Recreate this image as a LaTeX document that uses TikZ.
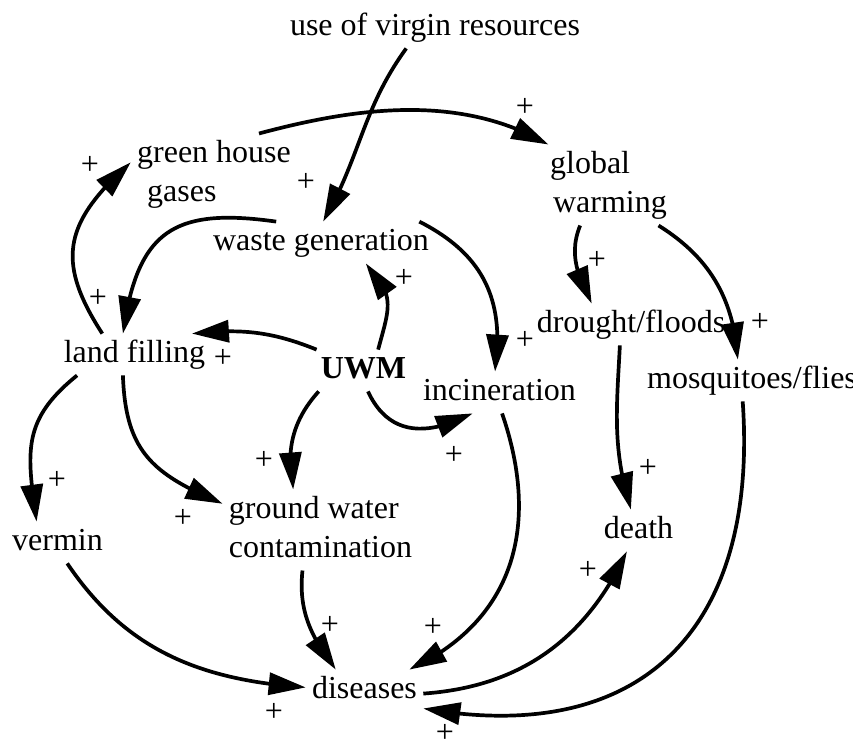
\documentclass[tikz,border=0pt]{standalone}
\usepackage{fontspec}
\setmainfont{Liberation Serif}
\usetikzlibrary{arrows.meta, bending}

\tikzset{
  var/.style={font=\fontsize{16pt}{19.5pt}\selectfont, inner sep=3pt,
    text height=11pt, text depth=3.5pt, anchor=base},
  varml/.style={font=\fontsize{16pt}{19.5pt}\selectfont, inner sep=3pt,
    text depth=3.5pt, align=left},
  pol/.style={font=\fontsize{16pt}{19.5pt}\selectfont, inner sep=0pt},
  link/.style={line width=1.85pt, -{Triangle[length=18.5pt,width=11pt]}}
}

\begin{document}
\begin{tikzpicture}[x=0.5pt, y=0.5pt]
  % page frame (pixel grid, y downwards as negative)
  \useasboundingbox (0,0) rectangle (853,-740);

  % variables
  \node[var] (vr) at (435,-35) {use of virgin resources};
  \node[varml] (gh) at (214,-174) {green house\\\hspace*{5pt}gases};
  \node[varml] (gw) at (608.5,-185) {global\\\hspace*{1.5pt}warming};
  \node[var] (wg) at (321,-250) {waste generation};
  \node[var] (lf) at (134.5,-362) {land filling};
  \node[var, font=\fontsize{16pt}{19.5pt}\selectfont\bfseries] (uwm) at (363.5,-378) {UWM};
  \node[var] (df) at (631,-332) {drought/floods};
  \node[var] (inc) at (499.5,-400) {incineration};
  \node[var] (mf) at (752,-388) {mosquitoes/flies};
  \node[var] (vm) at (57.5,-550) {vermin};
  \node[varml] (gwc) at (320.5,-530) {ground water\\contamination};
  \node[var] (de) at (638.5,-538) {death};
  \node[var] (dis) at (364.5,-698) {diseases};

  % causal links
  \draw[link] (vr.216) to[out=234, in=60] (wg.84);
  \draw[link] (gh.42) to[out=15, in=150, looseness=0.9] (gw.146);
  \draw[link] (wg.155) to[out=172, in=82, looseness=1.4] (lf.119);
  \draw[link] (lf.147) to[out=123, in=222, looseness=1.3] (gh.172);
  \draw[link] (uwm.156) to[out=158, in=6] (lf.20);
  \draw[link] (uwm.55) to[out=75, in=313, looseness=1.3] (wg.335);
  \draw[link] (wg.12) to[out=333, in=82, looseness=1.1] (inc.102);
  \draw[link] (uwm.282) to[out=295, in=207, looseness=1.2] (inc.218);
  \draw[link] (uwm.205) to[out=228, in=101] (gwc.124);
  \draw[link] (lf.200) to[out=219, in=98, looseness=1.2] (vm.135);
  \draw[link] (lf.241) to[out=272, in=157, looseness=1.2] (gwc.165);
  \draw[link] (gw.235) to[out=248, in=117] (df.152);
  \draw[link] (gw.321) to[out=328, in=94] (mf.124);
  \draw[link] (df.242) to[out=267, in=107] (de.110);
  \draw[link] (inc.277) to[out=289, in=25, looseness=1.1] (dis.25);
  \draw[link] (gwc.246) to[out=264, in=127] (dis.144);
  \draw[link] (vm.295) to[out=304, in=176] (dis.177);
  \draw[link] (dis.357) to[out=4, in=245] (de.241);
  \draw[link] (mf.246) to[out=274, in=350, looseness=1.3] (dis.343);

  % polarities
  \foreach \n/\x/\y in {1/90/165, 2/306/182, 3/525/107, 4/404/278, 5/98/298,
      6/223/358, 7/525/340, 8/597/260, 9/760/322, 10/454/455, 11/57/480,
      12/183/518, 13/264/460, 14/648/468, 15/330/625, 16/433/627,
      17/588/570, 18/274/712, 19/445/733}
    \node[pol] (p\n) at (\x,-\y) {+};
\end{tikzpicture}
\end{document}
